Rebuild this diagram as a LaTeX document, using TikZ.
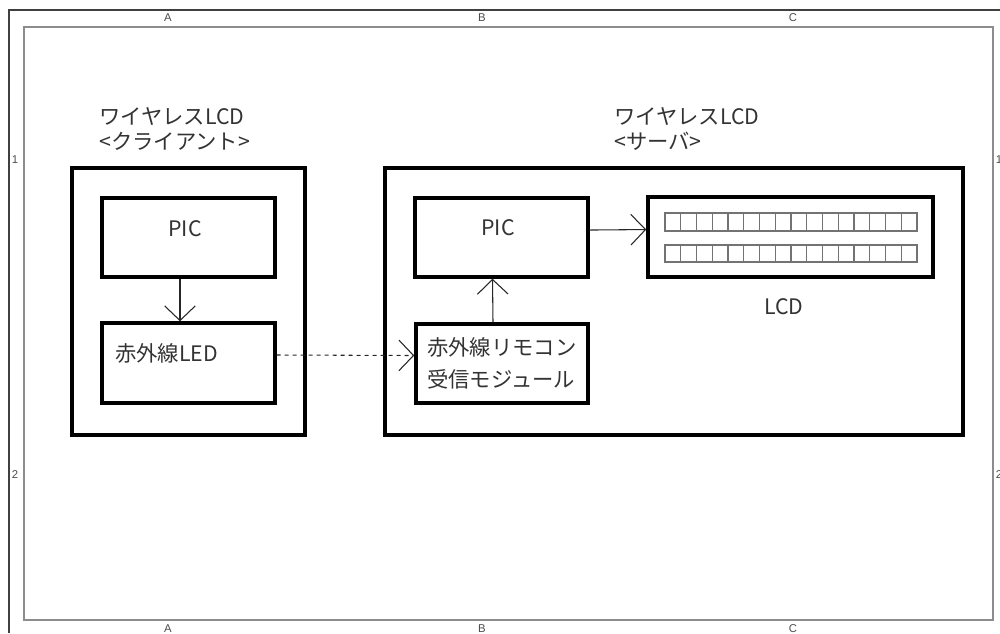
\documentclass[tikz,border=0pt]{standalone}
\usepackage{fontspec}
\setmainfont{Noto Sans CJK JP}
\setsansfont{Liberation Sans}
\usetikzlibrary{arrows.meta}

\tikzset{
  blk/.style={draw, line width=2.6pt, inner sep=0pt},
  lnk/.style={draw=black!85, line width=0.8pt, -{Straight Barb[length=11pt,width=23pt]}},
  txt/.style={inner sep=0.75pt, text=black!80, font=\fontsize{16}{24}\selectfont},
  zone/.style={inner sep=0pt, text=black!70, font=\sffamily\fontsize{8.5}{8.5}\selectfont},
  cell/.style={draw=black!55, line width=0.8pt}
}

\begin{document}
\begin{tikzpicture}[x=0.75pt,y=0.75pt,yscale=-1,xscale=1]
\useasboundingbox (0,0) rectangle (1000,633);

%Frame
\draw [black!75, line width=1.3pt] (9,633) -- (9,10) -- (1000,10) ;
\draw [black!45, line width=1.3pt] (24,27) rectangle (993,620) ;

% Zone marks
\draw (168,18) node [zone] (za1) {A};
\draw (482,18) node [zone] (zb1) {B};
\draw (793,18) node [zone] (zc1) {C};
\draw (168,629) node [zone] (za2) {A};
\draw (482,629) node [zone] (zb2) {B};
\draw (793,629) node [zone] (zc2) {C};
\draw (15,160) node [zone] (z11) {1};
\draw (15,475) node [zone] (z21) {2};
\draw (999,160) node [zone] (z12) {1};
\draw (999,475) node [zone] (z22) {2};

%Client
\node [blk, minimum width=174.75pt, minimum height=200.25pt] (client) at (188.5,301.5) {};
\node [blk, minimum width=129.75pt, minimum height=59.25pt] (cpic) at (188.5,237.5) {};
\node [blk, minimum width=129.75pt, minimum height=60pt] (cled) at (188.5,363) {};

%Server
\node [blk, minimum width=433.5pt, minimum height=200.25pt] (server) at (674,301.5) {};
\node [blk, minimum width=129.75pt, minimum height=59.25pt] (spic) at (501.5,237.5) {};
\node [blk, minimum width=129pt, minimum height=59.25pt] (recv) at (502,363.5) {};
\node [blk, minimum width=213.75pt, minimum height=60pt] (lcd) at (790.5,237) {};

%LCD cells
\foreach \i in {0,...,15} {
  \draw [cell] (665+\i*15.75,213) rectangle ++(15.75,18) ;
  \draw [cell] (665+\i*15.75,245) rectangle ++(15.75,17) ;
}

%Arrows
\draw [lnk] ([xshift=-6.4pt]cpic.south) -- ([xshift=-6.4pt]cled.north) ;
\draw [lnk] ([xshift=-6.75pt]recv.north) -- ([xshift=-6.75pt]spic.south) ;
\draw [lnk] ([yshift=-5.6pt]spic.east) -- ([yshift=-5.6pt]lcd.west) ;
\draw [lnk, dash pattern=on 3pt off 3pt] ([yshift=-6pt]cled.east) -- ([yshift=-6pt]recv.west) ;

% Text Node
\draw (98,106) node [anchor=north west][txt][align=left] (clbl) {ワイヤレスLCD\\[-5pt]<クライアント>};
% Text Node
\draw (613,106) node [anchor=north west][txt][align=left] (slbl) {ワイヤレスLCD\\[-5pt]<サーバ>};
% Text Node
\draw (185,229) node [txt] (cpictxt) {PIC};
% Text Node
\draw (498,228) node [txt] (spictxt) {PIC};
% Text Node
\draw (114,353) node [anchor=west][txt] (cledtxt) {赤外線LED};
% Text Node
\draw (426,336) node [anchor=north west][txt][align=left] (recvtxt) {赤外線リモコン\\受信モジュール};
% Text Node
\draw (784,307) node [txt] (lcdtxt) {LCD};

\end{tikzpicture}
\end{document}
